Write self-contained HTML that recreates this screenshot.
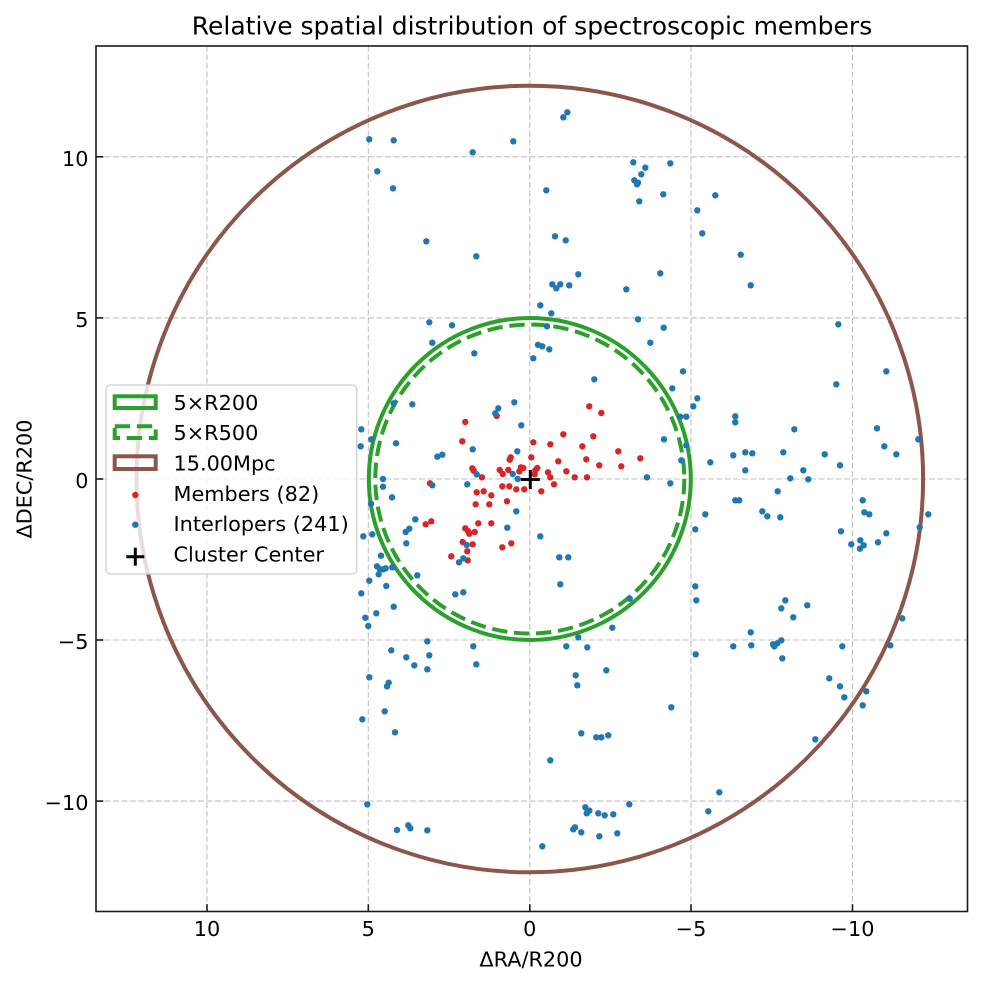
<!DOCTYPE html>
<html><head><meta charset="utf-8"><style>
html,body{margin:0;padding:0;background:#fff;}
svg{display:block;}
text{font-family:"DejaVu Sans","Liberation Sans",sans-serif;fill:#000;}
</style></head><body>
<svg width="982" height="984" viewBox="0 0 982 984" xmlns="http://www.w3.org/2000/svg">
<rect x="0" y="0" width="982" height="984" fill="#fff"/>
<!-- grid -->
<g stroke="#b0b0b0" stroke-opacity="0.8" stroke-width="1.1" stroke-dasharray="5.9 2.6" fill="none">
<line x1="207" y1="46" x2="207" y2="911.5"/>
<line x1="368.3" y1="46" x2="368.3" y2="911.5"/>
<line x1="529.8" y1="46" x2="529.8" y2="911.5"/>
<line x1="691" y1="46" x2="691" y2="911.5"/>
<line x1="852.5" y1="46" x2="852.5" y2="911.5"/>
<line x1="96" y1="156.8" x2="967.5" y2="156.8"/>
<line x1="96" y1="317.9" x2="967.5" y2="317.9"/>
<line x1="96" y1="479" x2="967.5" y2="479"/>
<line x1="96" y1="640" x2="967.5" y2="640"/>
<line x1="96" y1="801.1" x2="967.5" y2="801.1"/>
</g>
<!-- circles -->
<circle cx="529.8" cy="479" r="161" fill="none" stroke="#2ca02c" stroke-width="4"/>
<circle cx="529.8" cy="479" r="154.5" fill="none" stroke="#2ca02c" stroke-width="4" stroke-dasharray="15.4 6.7"/>
<circle cx="529.8" cy="479" r="393.3" fill="none" stroke="#8c564b" stroke-width="4"/>
<!-- members -->
<g fill="#d62728">
<circle cx="589.3" cy="406.3" r="3.2"/><circle cx="601.3" cy="413" r="3.2"/><circle cx="465.3" cy="422" r="3.2"/><circle cx="496.7" cy="416" r="3.2"/>
<circle cx="563.3" cy="434.3" r="3.2"/><circle cx="593.3" cy="436.3" r="3.2"/><circle cx="462.3" cy="441.3" r="3.2"/><circle cx="533.3" cy="442.3" r="3.2"/>
<circle cx="550.3" cy="444.3" r="3.2"/><circle cx="582.3" cy="446.3" r="3.2"/><circle cx="618.3" cy="451.3" r="3.2"/><circle cx="640.3" cy="458.3" r="3.2"/>
<circle cx="510.7" cy="457.3" r="3.2"/><circle cx="509.7" cy="459.7" r="3.2"/><circle cx="531.3" cy="457.3" r="3.2"/><circle cx="558.3" cy="461.3" r="3.2"/>
<circle cx="586.3" cy="459.3" r="3.2"/><circle cx="599.3" cy="465.3" r="3.2"/><circle cx="621.3" cy="466.3" r="3.2"/><circle cx="472.3" cy="468.3" r="3.2"/>
<circle cx="473.7" cy="470.7" r="3.2"/><circle cx="499.7" cy="470" r="3.2"/><circle cx="502.7" cy="474" r="3.2"/><circle cx="508.3" cy="470" r="3.2"/>
<circle cx="521" cy="467.3" r="3.2"/><circle cx="523.3" cy="468" r="3.2"/><circle cx="519.3" cy="471.3" r="3.2"/><circle cx="535.3" cy="470.3" r="3.2"/>
<circle cx="537.3" cy="468" r="3.2"/><circle cx="534.7" cy="474.3" r="3.2"/><circle cx="548" cy="472.3" r="3.2"/><circle cx="550.3" cy="477.3" r="3.2"/>
<circle cx="566.3" cy="471.3" r="3.2"/><circle cx="574.7" cy="477.3" r="3.2"/><circle cx="587" cy="477.3" r="3.2"/><circle cx="554" cy="484.3" r="3.2"/>
<circle cx="541.3" cy="491.3" r="3.2"/><circle cx="524.3" cy="489.3" r="3.2"/><circle cx="516.3" cy="489.3" r="3.2"/><circle cx="509.3" cy="486.3" r="3.2"/>
<circle cx="502.3" cy="486.3" r="3.2"/><circle cx="482" cy="477.3" r="3.2"/><circle cx="476.7" cy="492.3" r="3.2"/><circle cx="483.7" cy="491.3" r="3.2"/>
<circle cx="491.3" cy="495.3" r="3.2"/><circle cx="507" cy="501.3" r="3.2"/><circle cx="489.3" cy="504.3" r="3.2"/><circle cx="475.7" cy="504.3" r="3.2"/>
<circle cx="430" cy="483.3" r="3.2"/><circle cx="478.3" cy="523.3" r="3.2"/><circle cx="491.3" cy="523.3" r="3.2"/><circle cx="425.7" cy="524.3" r="3.2"/>
<circle cx="431.3" cy="521.3" r="3.2"/><circle cx="465.3" cy="528.3" r="3.2"/><circle cx="468" cy="531" r="3.2"/><circle cx="469.3" cy="533.7" r="3.2"/>
<circle cx="474.7" cy="532" r="3.2"/><circle cx="462.7" cy="542" r="3.2"/><circle cx="472.7" cy="544.3" r="3.2"/><circle cx="467.3" cy="551.3" r="3.2"/>
<circle cx="467.7" cy="560.3" r="3.2"/><circle cx="451.3" cy="556.3" r="3.2"/><circle cx="502.3" cy="547.3" r="3.2"/><circle cx="511.3" cy="543.3" r="3.2"/>
</g>
<!-- interlopers -->
<g fill="#1f77b4">
<circle cx="369.3" cy="139.3" r="3.2"/><circle cx="393.7" cy="140.3" r="3.2"/><circle cx="377.3" cy="171.3" r="3.2"/><circle cx="393" cy="188.3" r="3.2"/>
<circle cx="472.7" cy="152.3" r="3.2"/><circle cx="513.3" cy="141.3" r="3.2"/><circle cx="563.3" cy="117.3" r="3.2"/><circle cx="567.3" cy="112.3" r="3.2"/>
<circle cx="426.3" cy="241.3" r="3.2"/><circle cx="476.3" cy="256.3" r="3.2"/><circle cx="546.3" cy="190.3" r="3.2"/><circle cx="555" cy="236.3" r="3.2"/>
<circle cx="565.7" cy="240.3" r="3.2"/><circle cx="578.3" cy="274.3" r="3.2"/><circle cx="552.3" cy="284.3" r="3.2"/><circle cx="556.3" cy="288.3" r="3.2"/>
<circle cx="560.3" cy="284.3" r="3.2"/><circle cx="569.3" cy="285.3" r="3.2"/><circle cx="540.3" cy="305.3" r="3.2"/><circle cx="551.3" cy="313.3" r="3.2"/>
<circle cx="547" cy="326.3" r="3.2"/><circle cx="538" cy="344.8" r="3.2"/><circle cx="429.3" cy="322.3" r="3.2"/><circle cx="452" cy="325.3" r="3.2"/>
<circle cx="432.3" cy="342.7" r="3.2"/><circle cx="633.3" cy="162.3" r="3.2"/><circle cx="645.3" cy="167.7" r="3.2"/><circle cx="641.3" cy="174.3" r="3.2"/>
<circle cx="634.3" cy="180.3" r="3.2"/><circle cx="638" cy="182.7" r="3.2"/><circle cx="637" cy="184.3" r="3.2"/><circle cx="670.3" cy="163.3" r="3.2"/>
<circle cx="663.3" cy="194.3" r="3.2"/><circle cx="639.3" cy="201.3" r="3.2"/><circle cx="660.3" cy="273.3" r="3.2"/><circle cx="626.3" cy="289.3" r="3.2"/>
<circle cx="638" cy="319.3" r="3.2"/><circle cx="663.7" cy="327.7" r="3.2"/><circle cx="650.3" cy="342.7" r="3.2"/>
<circle cx="715.3" cy="195.3" r="3.2"/><circle cx="697.3" cy="210.3" r="3.2"/><circle cx="702.3" cy="233.3" r="3.2"/><circle cx="740.7" cy="254.7" r="3.2"/>
<circle cx="750.7" cy="285.3" r="3.2"/><circle cx="838.3" cy="324.3" r="3.2"/>
<circle cx="361.3" cy="429.3" r="3.2"/><circle cx="360.7" cy="446.3" r="3.2"/><circle cx="371.3" cy="439.3" r="3.2"/><circle cx="383" cy="479" r="3.2"/>
<circle cx="383" cy="486.7" r="3.2"/><circle cx="392" cy="497.3" r="3.2"/><circle cx="371" cy="503.7" r="3.2"/><circle cx="393.7" cy="403.3" r="3.2"/>
<circle cx="396" cy="443.3" r="3.2"/><circle cx="363.3" cy="536.3" r="3.2"/><circle cx="372.3" cy="534.3" r="3.2"/><circle cx="381" cy="555.7" r="3.2"/>
<circle cx="377" cy="566.3" r="3.2"/><circle cx="380" cy="569.3" r="3.2"/><circle cx="383.3" cy="569.3" r="3.2"/><circle cx="385.7" cy="568.3" r="3.2"/>
<circle cx="392.3" cy="567.3" r="3.2"/><circle cx="378.7" cy="574.3" r="3.2"/><circle cx="369.3" cy="580.7" r="3.2"/><circle cx="386.3" cy="586" r="3.2"/>
<circle cx="361.3" cy="593.3" r="3.2"/><circle cx="376.3" cy="613.3" r="3.2"/><circle cx="365.3" cy="617.7" r="3.2"/><circle cx="368.3" cy="626" r="3.2"/>
<circle cx="393.7" cy="606.7" r="3.2"/>
<circle cx="474.3" cy="353.3" r="3.2"/><circle cx="542.3" cy="346.3" r="3.2"/><circle cx="549.3" cy="349.3" r="3.2"/><circle cx="533.3" cy="358.3" r="3.2"/>
<circle cx="594.3" cy="379.3" r="3.2"/><circle cx="672.3" cy="388.3" r="3.2"/><circle cx="412.3" cy="404.3" r="3.2"/><circle cx="514.3" cy="402.3" r="3.2"/>
<circle cx="498.3" cy="408.3" r="3.2"/><circle cx="495.3" cy="413.3" r="3.2"/><circle cx="521.3" cy="425.3" r="3.2"/><circle cx="472.7" cy="449.3" r="3.2"/>
<circle cx="517.3" cy="451.3" r="3.2"/><circle cx="664" cy="439.3" r="3.2"/><circle cx="437.3" cy="456.7" r="3.2"/><circle cx="442.3" cy="454.7" r="3.2"/>
<circle cx="432.3" cy="485.3" r="3.2"/><circle cx="467.3" cy="484.3" r="3.2"/><circle cx="476.7" cy="474.3" r="3.2"/><circle cx="512.7" cy="474" r="3.2"/>
<circle cx="517.7" cy="479" r="3.2"/><circle cx="647" cy="477.3" r="3.2"/><circle cx="670.3" cy="483.3" r="3.2"/><circle cx="516.3" cy="511.3" r="3.2"/>
<circle cx="415.3" cy="519.3" r="3.2"/><circle cx="409.3" cy="528.7" r="3.2"/><circle cx="405.7" cy="532" r="3.2"/><circle cx="406.3" cy="543.3" r="3.2"/>
<circle cx="507.3" cy="527.7" r="3.2"/><circle cx="540.3" cy="536.3" r="3.2"/><circle cx="559.3" cy="557.3" r="3.2"/><circle cx="568.3" cy="557.3" r="3.2"/>
<circle cx="466.7" cy="545" r="3.2"/><circle cx="459" cy="562.3" r="3.2"/><circle cx="463.3" cy="558.3" r="3.2"/><circle cx="417.3" cy="575.3" r="3.2"/>
<circle cx="560.3" cy="584.3" r="3.2"/><circle cx="455.3" cy="594.3" r="3.2"/><circle cx="463.3" cy="592.3" r="3.2"/><circle cx="629.7" cy="598.7" r="3.2"/>
<circle cx="612.3" cy="627.7" r="3.2"/>
<circle cx="683" cy="371.3" r="3.2"/><circle cx="697.3" cy="398.3" r="3.2"/><circle cx="693.3" cy="406.3" r="3.2"/><circle cx="680.3" cy="416.7" r="3.2"/>
<circle cx="686.3" cy="416.7" r="3.2"/><circle cx="686.3" cy="445.3" r="3.2"/><circle cx="681.3" cy="460.3" r="3.2"/><circle cx="735.3" cy="416.3" r="3.2"/>
<circle cx="735.3" cy="422.3" r="3.2"/><circle cx="710.3" cy="462.3" r="3.2"/><circle cx="733.3" cy="455.3" r="3.2"/><circle cx="745.3" cy="452.3" r="3.2"/>
<circle cx="752.3" cy="453.3" r="3.2"/><circle cx="745.3" cy="470.3" r="3.2"/><circle cx="794.3" cy="429.3" r="3.2"/><circle cx="783.3" cy="452.3" r="3.2"/>
<circle cx="836.3" cy="384.3" r="3.2"/><circle cx="824.7" cy="454.3" r="3.2"/><circle cx="840" cy="465.3" r="3.2"/><circle cx="803.3" cy="470.3" r="3.2"/>
<circle cx="790.3" cy="478.3" r="3.2"/><circle cx="808.3" cy="479.3" r="3.2"/><circle cx="777.7" cy="491.3" r="3.2"/><circle cx="886.3" cy="371.3" r="3.2"/>
<circle cx="877" cy="428.3" r="3.2"/><circle cx="884.3" cy="446.3" r="3.2"/><circle cx="896.3" cy="454.3" r="3.2"/><circle cx="918.3" cy="439.3" r="3.2"/>
<circle cx="735.3" cy="500.3" r="3.2"/><circle cx="739.3" cy="500.3" r="3.2"/><circle cx="705.3" cy="514.3" r="3.2"/><circle cx="695.3" cy="529.3" r="3.2"/>
<circle cx="762.3" cy="511.3" r="3.2"/><circle cx="767.3" cy="516.3" r="3.2"/><circle cx="780.3" cy="517.3" r="3.2"/><circle cx="862.7" cy="500.3" r="3.2"/>
<circle cx="864.3" cy="512.3" r="3.2"/><circle cx="869.3" cy="514.3" r="3.2"/><circle cx="841" cy="531.3" r="3.2"/><circle cx="886.3" cy="533.3" r="3.2"/>
<circle cx="851.3" cy="544.3" r="3.2"/><circle cx="860.3" cy="540.3" r="3.2"/><circle cx="863.7" cy="545.3" r="3.2"/><circle cx="860" cy="548.7" r="3.2"/>
<circle cx="878" cy="542.3" r="3.2"/><circle cx="928.3" cy="514.3" r="3.2"/><circle cx="919.7" cy="527.3" r="3.2"/><circle cx="695.3" cy="586.3" r="3.2"/>
<circle cx="696.3" cy="600.3" r="3.2"/><circle cx="785.3" cy="600.3" r="3.2"/><circle cx="781.3" cy="608.3" r="3.2"/><circle cx="807.3" cy="605.3" r="3.2"/>
<circle cx="793.3" cy="617.3" r="3.2"/><circle cx="902.3" cy="618.3" r="3.2"/>
<circle cx="391.3" cy="650.3" r="3.2"/><circle cx="369.3" cy="677.3" r="3.2"/><circle cx="388.7" cy="682.7" r="3.2"/><circle cx="387" cy="686.3" r="3.2"/>
<circle cx="384.7" cy="711.3" r="3.2"/><circle cx="362.3" cy="719.3" r="3.2"/><circle cx="395" cy="732.3" r="3.2"/><circle cx="367.3" cy="804.3" r="3.2"/>
<circle cx="397" cy="830" r="3.2"/>
<circle cx="427.3" cy="641.3" r="3.2"/><circle cx="406.3" cy="657.3" r="3.2"/><circle cx="429.3" cy="655.3" r="3.2"/><circle cx="414.3" cy="665.3" r="3.2"/>
<circle cx="427.3" cy="669.3" r="3.2"/><circle cx="473.3" cy="646.3" r="3.2"/><circle cx="476.3" cy="664.3" r="3.2"/><circle cx="578.3" cy="637.3" r="3.2"/>
<circle cx="566.3" cy="646.3" r="3.2"/><circle cx="587.3" cy="647.3" r="3.2"/><circle cx="606.3" cy="670.3" r="3.2"/><circle cx="575.7" cy="675.3" r="3.2"/>
<circle cx="577.3" cy="685.3" r="3.2"/><circle cx="671.3" cy="707.3" r="3.2"/><circle cx="581.3" cy="733.3" r="3.2"/><circle cx="596.3" cy="737.3" r="3.2"/>
<circle cx="601.3" cy="737.3" r="3.2"/><circle cx="608.3" cy="735.3" r="3.2"/><circle cx="550.3" cy="760.3" r="3.2"/><circle cx="629.3" cy="804.3" r="3.2"/>
<circle cx="585.3" cy="807.3" r="3.2"/><circle cx="589.3" cy="810.7" r="3.2"/><circle cx="586.7" cy="813.3" r="3.2"/><circle cx="598.3" cy="813.3" r="3.2"/>
<circle cx="604.7" cy="815.3" r="3.2"/><circle cx="613.3" cy="814.3" r="3.2"/><circle cx="573.3" cy="829.3" r="3.2"/><circle cx="575" cy="827.3" r="3.2"/>
<circle cx="581.3" cy="832.3" r="3.2"/><circle cx="599.3" cy="836.3" r="3.2"/><circle cx="617.3" cy="833.3" r="3.2"/><circle cx="542.3" cy="846.3" r="3.2"/>
<circle cx="408.3" cy="825.3" r="3.2"/><circle cx="410.3" cy="828.3" r="3.2"/><circle cx="427.3" cy="830.3" r="3.2"/>
<circle cx="695.7" cy="654.3" r="3.2"/><circle cx="733.3" cy="646.3" r="3.2"/><circle cx="750.7" cy="632.3" r="3.2"/><circle cx="751.3" cy="645.3" r="3.2"/>
<circle cx="773" cy="644.3" r="3.2"/><circle cx="774.3" cy="646.3" r="3.2"/><circle cx="777.3" cy="643.3" r="3.2"/><circle cx="781.3" cy="640.3" r="3.2"/>
<circle cx="782.3" cy="658.3" r="3.2"/><circle cx="842.3" cy="646.3" r="3.2"/><circle cx="890.3" cy="645.3" r="3.2"/><circle cx="829.3" cy="678.3" r="3.2"/>
<circle cx="840" cy="686.3" r="3.2"/><circle cx="844.3" cy="697.3" r="3.2"/><circle cx="866.3" cy="691.3" r="3.2"/><circle cx="862.7" cy="705.3" r="3.2"/>
<circle cx="815.3" cy="739.3" r="3.2"/><circle cx="719.3" cy="792.3" r="3.2"/><circle cx="708.3" cy="811.3" r="3.2"/>
</g>
<!-- cluster center -->
<g stroke="#000" stroke-width="3">
<line x1="520.8" y1="479.5" x2="539.8" y2="479.5"/>
<line x1="530.3" y1="470" x2="530.3" y2="489"/>
</g>
<!-- frame & ticks -->
<rect x="96" y="46" width="871.5" height="865.5" fill="none" stroke="#1a1a1a" stroke-width="1.6"/>
<g stroke="#1a1a1a" stroke-width="1.6">
<line x1="207" y1="911.5" x2="207" y2="904.2"/>
<line x1="368.3" y1="911.5" x2="368.3" y2="904.2"/>
<line x1="529.8" y1="911.5" x2="529.8" y2="904.2"/>
<line x1="691" y1="911.5" x2="691" y2="904.2"/>
<line x1="852.5" y1="911.5" x2="852.5" y2="904.2"/>
<line x1="96" y1="156.8" x2="103.3" y2="156.8"/>
<line x1="96" y1="317.9" x2="103.3" y2="317.9"/>
<line x1="96" y1="479" x2="103.3" y2="479"/>
<line x1="96" y1="640" x2="103.3" y2="640"/>
<line x1="96" y1="801.1" x2="103.3" y2="801.1"/>
</g>
<g font-size="20.8" text-anchor="middle">
<text x="207" y="936">10</text>
<text x="368.3" y="936">5</text>
<text x="529.8" y="936">0</text>
<text x="691" y="936">−5</text>
<text x="852.5" y="936">−10</text>
</g>
<g font-size="20.8" text-anchor="end">
<text x="88.5" y="165.8">10</text>
<text x="88.5" y="326.9">5</text>
<text x="88.5" y="488">0</text>
<text x="88.5" y="649">−5</text>
<text x="88.5" y="810.1">−10</text>
</g>
<text x="531" y="966.5" font-size="20.8" text-anchor="middle">ΔRA/R200</text>
<text transform="translate(31.5,479) rotate(-90)" font-size="20.8" text-anchor="middle">ΔDEC/R200</text>
<text x="532" y="34.3" font-size="25" text-anchor="middle">Relative spatial distribution of spectroscopic members</text>
<!-- legend -->
<rect x="106" y="385" width="250.7" height="189" rx="4.5" ry="4.5" fill="#fff" fill-opacity="0.8" stroke="#cccccc" stroke-opacity="0.8" stroke-width="1.6"/>
<rect x="114.7" y="396.3" width="41" height="11.7" fill="none" stroke="#2ca02c" stroke-width="4"/>
<rect x="114.7" y="426.3" width="41" height="11.7" fill="none" stroke="#2ca02c" stroke-width="4" stroke-dasharray="15.4 6.7"/>
<rect x="114.7" y="456.3" width="41" height="12.7" fill="none" stroke="#8c564b" stroke-width="4"/>
<circle cx="135.3" cy="495" r="3.2" fill="#d62728"/>
<circle cx="135.3" cy="524.7" r="3.2" fill="#1f77b4"/>
<g stroke="#000" stroke-width="3">
<line x1="126.3" y1="556.7" x2="144.3" y2="556.7"/>
<line x1="135.3" y1="547.7" x2="135.3" y2="565.7"/>
</g>
<g font-size="20.8">
<text x="173.5" y="410">5×R200</text>
<text x="173.5" y="440.2">5×R500</text>
<text x="173.5" y="470.5">15.00Mpc</text>
<text x="173.5" y="500.8">Members (82)</text>
<text x="173.5" y="531.1">Interlopers (241)</text>
<text x="173.5" y="561.4">Cluster Center</text>
</g>
</svg>
</body></html>
